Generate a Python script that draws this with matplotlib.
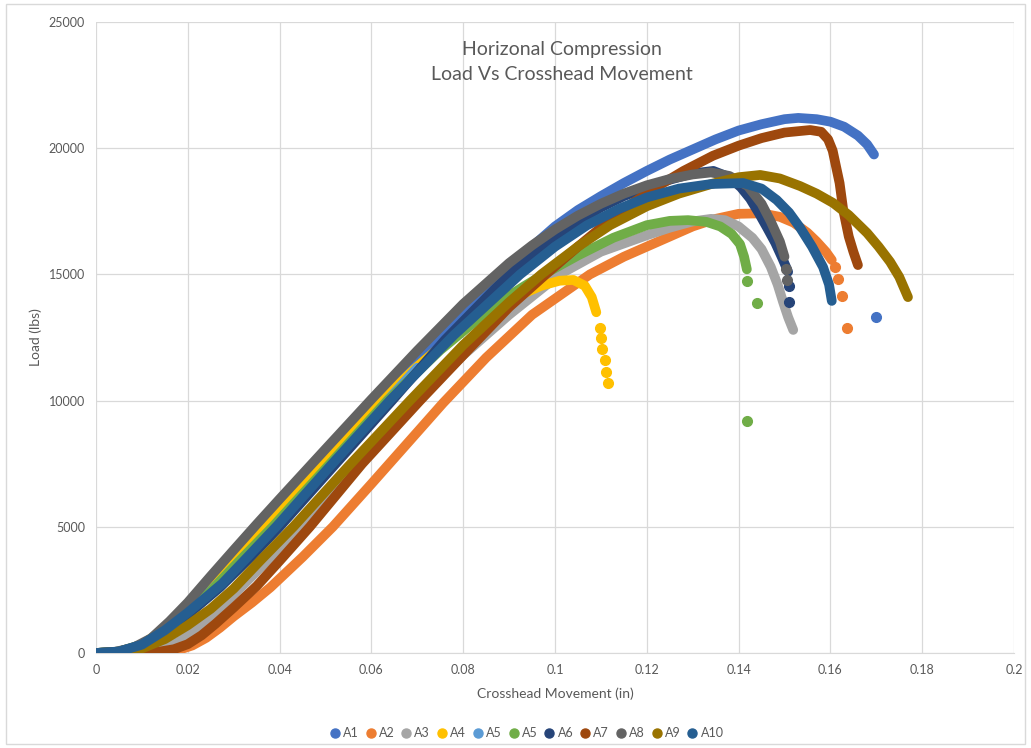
import matplotlib
matplotlib.use("Agg")
import matplotlib.pyplot as plt
from matplotlib.lines import Line2D
from matplotlib.patches import Rectangle

plt.rcParams['font.family'] = ['Lato', 'DejaVu Sans']

# ---------------- data ----------------
series_names = ["A1", "A2", "A3", "A4", "A5", "A5", "A6", "A7", "A8", "A9", "A10"]
series_colors = ["#4472C4", "#ED7D31", "#A5A5A5", "#FFC000", "#5B9BD5", "#70AD47",
                 "#264478", "#9E480E", "#636363", "#997300", "#255E91"]

A1_x = [0, 0.005, 0.01, 0.015, 0.02, 0.025, 0.031, 0.0385, 0.05, 0.0615, 0.07, 0.08, 0.0885, 0.095, 0.10,
        0.105, 0.11, 0.115, 0.12, 0.125, 0.13, 0.135, 0.14, 0.145, 0.15, 0.153, 0.157, 0.16, 0.163, 0.166, 0.168, 0.1695]
A1_y = [0, 40, 250, 750, 1500, 2450, 3650, 5000, 7500, 10000, 11750, 13600, 15100, 16100, 16900,
        17550, 18100, 18620, 19100, 19550, 19950, 20350, 20700, 20950, 21150, 21200, 21150, 21050, 20850, 20500, 20150, 19750]
A1_tx = [0.170]
A1_ty = [13310]

A2_x = [0, 0.01, 0.015, 0.018, 0.021, 0.024, 0.027, 0.03, 0.034, 0.038, 0.045, 0.0516, 0.06, 0.07, 0.0756,
        0.085, 0.095, 0.1076, 0.115, 0.12, 0.125, 0.13, 0.135, 0.14, 0.145, 0.149, 0.152, 0.155, 0.157, 0.159, 0.1603]
A2_y = [0, 10, 40, 120, 300, 600, 1000, 1450, 2000, 2600, 3800, 5000, 6700, 8750, 9900,
        11700, 13400, 15000, 15700, 16100, 16500, 16900, 17200, 17400, 17420, 17280, 17050, 16650, 16300, 15900, 15570]
A2_tx = [0.161, 0.1617, 0.1625, 0.1636]
A2_ty = [15290, 14820, 14140, 12880]

A3_x = [0, 0.008, 0.012, 0.015, 0.018, 0.021, 0.025, 0.031, 0.037, 0.0445, 0.057, 0.070, 0.08, 0.09, 0.101,
        0.11, 0.12, 0.125, 0.13, 0.134, 0.137, 0.14, 0.143, 0.145, 0.147, 0.1485, 0.1497, 0.1508, 0.1519]
A3_y = [0, 20, 80, 200, 450, 800, 1400, 2500, 3600, 5000, 7500, 10000, 11800, 13400, 15000,
        15900, 16550, 16850, 17100, 17200, 17150, 16900, 16450, 16000, 15300, 14600, 13900, 13300, 12800]
A3_tx = []
A3_ty = []

A4_x = [0, 0.005, 0.01, 0.015, 0.02, 0.0252, 0.031, 0.0368, 0.0455, 0.0535, 0.062, 0.07, 0.08, 0.086, 0.092,
        0.097, 0.101, 0.104, 0.1065, 0.108, 0.109]
A4_y = [0, 55, 330, 960, 1800, 2650, 3800, 5000, 6700, 8300, 10000, 11350, 12900, 13550, 14150,
        14550, 14750, 14780, 14550, 14100, 13500]
A4_tx = [0.1098, 0.1100, 0.1102, 0.1109, 0.1112, 0.1115]
A4_ty = [12880, 12480, 12040, 11610, 11130, 10700]

A5b_x = [0, 0.005, 0.01, 0.015, 0.02, 0.0255, 0.032, 0.039, 0.051, 0.0635, 0.070]
A5b_y = [0, 55, 330, 930, 1650, 2550, 3750, 5000, 7450, 10000, 11300]
A5b_tx = []
A5b_ty = []

A5g_x = [0, 0.005, 0.01, 0.015, 0.02, 0.025, 0.031, 0.0385, 0.051, 0.0635, 0.075, 0.087, 0.093, 0.098, 0.105,
         0.1127, 0.12, 0.125, 0.129, 0.133, 0.136, 0.1385, 0.1403, 0.1412, 0.1418]
A5g_y = [0, 55, 320, 900, 1620, 2450, 3600, 5000, 7500, 10000, 12000, 13800, 14500, 15050, 15750,
         16450, 16950, 17120, 17150, 17080, 16900, 16600, 16200, 15700, 15200]
A5g_tx = [0.1418, 0.144, 0.1418]
A5g_ty = [14740, 13870, 9190]

A6_x = [0, 0.005, 0.01, 0.015, 0.02, 0.027, 0.034, 0.040, 0.052, 0.0645, 0.076, 0.090, 0.095, 0.10, 0.105,
        0.11, 0.115, 0.12, 0.125, 0.13, 0.1345, 0.138, 0.1405, 0.1425, 0.1445, 0.1462, 0.148, 0.1495, 0.1508]
A6_y = [0, 50, 300, 850, 1520, 2600, 3850, 5000, 7450, 10000, 12400, 15000, 15800, 16500, 17100,
        17650, 18100, 18450, 18750, 19000, 19100, 18850, 18450, 18000, 17400, 16850, 16250, 15650, 15100]
A6_tx = [0.151, 0.151]
A6_ty = [14540, 13900]

A7_x = [0, 0.01, 0.014, 0.017, 0.02, 0.023, 0.026, 0.03, 0.035, 0.04, 0.0466, 0.058, 0.0706, 0.08, 0.09,
        0.098, 0.105, 0.11, 0.1163, 0.122, 0.128, 0.1344, 0.14, 0.145, 0.15, 0.1556, 0.158, 0.1595, 0.1605,
        0.1612, 0.162, 0.1628, 0.164, 0.165, 0.166]
A7_y = [0, 20, 60, 150, 350, 700, 1150, 1800, 2650, 3650, 5000, 7500, 10000, 11800, 13700,
        15000, 16100, 16850, 17750, 18450, 19100, 19700, 20100, 20400, 20620, 20720, 20650, 20350, 19900,
        19300, 18620, 17550, 16500, 15900, 15370]
A7_tx = []
A7_ty = []

A8_x = [0, 0.004, 0.008, 0.012, 0.016, 0.02, 0.025, 0.03, 0.035, 0.04, 0.05, 0.06, 0.07, 0.08, 0.09,
        0.095, 0.10, 0.105, 0.11, 0.115, 0.12, 0.125, 0.13, 0.134, 0.138, 0.142, 0.145, 0.147, 0.149, 0.150]
A8_y = [0, 40, 200, 580, 1250, 2000, 3050, 4080, 5100, 6100, 8080, 10050, 11980, 13830, 15450,
        16150, 16780, 17330, 17800, 18200, 18530, 18780, 18960, 19040, 18900, 18500, 17800, 17100, 16300, 15700]
A8_tx = [0.1503, 0.1505]
A8_ty = [15200, 14780]

A9_x = [0, 0.005, 0.01, 0.015, 0.02, 0.025, 0.030, 0.036, 0.043, 0.055, 0.0684, 0.08, 0.09, 0.097, 0.105,
        0.112, 0.12, 0.127, 0.1344, 0.14, 0.1447, 0.149, 0.1534, 0.157, 0.1606, 0.164, 0.168, 0.1705, 0.173,
        0.175, 0.1769]
A9_y = [0, 30, 180, 550, 1100, 1750, 2550, 3700, 5000, 7400, 10000, 12200, 13900, 15000, 16100,
        16950, 17700, 18200, 18600, 18850, 18940, 18800, 18500, 18200, 17830, 17350, 16640, 16100, 15500,
        14900, 14100]
A9_tx = []
A9_ty = []

A10_x = [0, 0.005, 0.01, 0.015, 0.02, 0.0275, 0.033, 0.0395, 0.051, 0.064, 0.078, 0.0924, 0.10, 0.107, 0.114,
         0.12, 0.127, 0.134, 0.141, 0.145, 0.1483, 0.151, 0.1534, 0.156, 0.1584, 0.1597, 0.1603]
A10_y = [0, 60, 330, 900, 1600, 2750, 3800, 5050, 7400, 10000, 12600, 15000, 16100, 16950, 17600,
         18050, 18400, 18580, 18620, 18400, 17950, 17450, 16850, 16100, 15290, 14600, 13950]
A10_tx = []
A10_ty = []

curves_x = [A1_x, A2_x, A3_x, A4_x, A5b_x, A5g_x, A6_x, A7_x, A8_x, A9_x, A10_x]
curves_y = [A1_y, A2_y, A3_y, A4_y, A5b_y, A5g_y, A6_y, A7_y, A8_y, A9_y, A10_y]
tails_x = [A1_tx, A2_tx, A3_tx, A4_tx, A5b_tx, A5g_tx, A6_tx, A7_tx, A8_tx, A9_tx, A10_tx]
tails_y = [A1_ty, A2_ty, A3_ty, A4_ty, A5b_ty, A5g_ty, A6_ty, A7_ty, A8_ty, A9_ty, A10_ty]

x_ticks = [0, 0.02, 0.04, 0.06, 0.08, 0.1, 0.12, 0.14, 0.16, 0.18, 0.2]
y_ticks = [0, 5000, 10000, 15000, 20000, 25000]

title_text = "Horizonal Compression\nLoad Vs Crosshead Movement"
x_label = "Crosshead Movement (in)"
y_label = "Load (lbs)"

# ---------------- figure ----------------
W, H = 1031, 748
fig = plt.figure(figsize=(W / 100, H / 100), dpi=100)
fig.patch.set_facecolor("white")
fig.add_artist(Rectangle((6 / W, 4 / H), (W - 12) / W, (H - 8) / H, transform=fig.transFigure,
                         fill=False, edgecolor="#D9D9D9", linewidth=1.0))

ax = fig.add_axes([96 / W, 1 - 653 / H, (1014 - 96) / W, (653 - 22) / H])
ax.set_xlim(0, 0.2)
ax.set_ylim(0, 25000)
ax.set_xticks(x_ticks)
ax.set_yticks(y_ticks)
ax.set_xticklabels([f"{v:g}" for v in x_ticks])
ax.set_yticklabels([f"{v:g}" for v in y_ticks])
ax.grid(True, color="#D9D9D9", linewidth=0.9)
ax.set_axisbelow(True)
for s in ["top", "right", "left"]:
    ax.spines[s].set_visible(False)
ax.spines["bottom"].set_color("#D9D9D9")
ax.tick_params(length=0, colors="#595959", labelsize=9, pad=8)

lw = 7
for xs, ys, tx, ty, c in zip(curves_x, curves_y, tails_x, tails_y, series_colors):
    ax.plot(xs, ys, color=c, lw=lw, solid_capstyle="round", solid_joinstyle="round", zorder=3)
    if tx:
        ax.plot(tx, ty, linestyle="none", marker="o", markersize=lw, color=c, zorder=3)

ax.text(0.508, (653 - 41) / 631, title_text, transform=ax.transAxes, ha="center", va="top",
        fontsize=14, color="#595959", linespacing=1.55)
ax.set_xlabel(x_label, fontsize=10, color="#595959", labelpad=8)
ax.set_ylabel(y_label, fontsize=10, color="#595959", labelpad=5)

handles = [Line2D([], [], linestyle="none", marker="o", markersize=6.5, color=c) for c in series_colors]
fig.legend(handles, series_names, loc="center", bbox_to_anchor=(526 / W, 1 - 733 / H), ncol=11,
           frameon=False, fontsize=9, handletextpad=0.15, columnspacing=0.45,
           labelcolor="#595959", handlelength=1.0)

fig.savefig("out.png", dpi=100)
